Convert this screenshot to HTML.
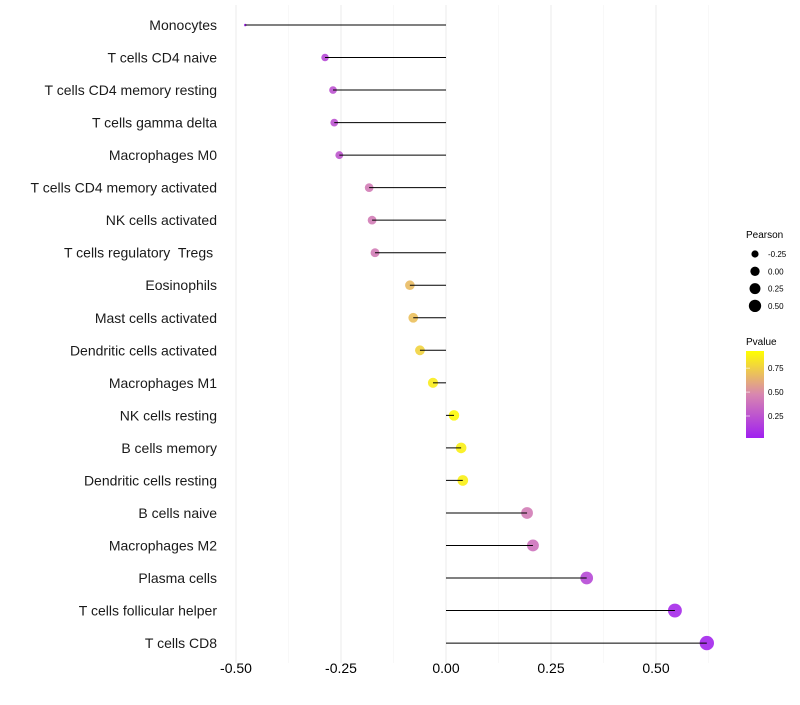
<!DOCTYPE html>
<html><head><meta charset="utf-8"><style>
body{margin:0;background:#fff;}
svg text{font-family:"Liberation Sans",sans-serif;white-space:pre;}
</style></head><body>
<svg id="chart" width="800" height="700" xmlns="http://www.w3.org/2000/svg">
<defs>
<linearGradient id="pgrad" x1="0" y1="1" x2="0" y2="0">
<stop offset="0" stop-color="#a020f0"/><stop offset="0.5" stop-color="#d886b0"/><stop offset="1" stop-color="#ffff00"/>
</linearGradient>
</defs>
<g id="grid"></g>
<g id="marks"></g>
<g id="ylabels"></g>
<g id="xlabels"></g>
<g>
<text x="746" y="238" font-size="10" fill="#000">Pearson</text>
<g id="sizeleg"></g>
</g>
<g>
<text x="746" y="345" font-size="10" fill="#000">Pvalue</text>
<rect x="746" y="351" width="18" height="87" fill="url(#pgrad)"/>
<g id="colleg"></g>
</g>
</svg>
<script>
const categories=["Monocytes","T cells CD4 naive","T cells CD4 memory resting","T cells gamma delta","Macrophages M0","T cells CD4 memory activated","NK cells activated","T cells regulatory  Tregs ","Eosinophils","Mast cells activated","Dendritic cells activated","Macrophages M1","NK cells resting","B cells memory","Dendritic cells resting","B cells naive","Macrophages M2","Plasma cells","T cells follicular helper","T cells CD8"];
const pearson=[-0.478,-0.288,-0.269,-0.266,-0.254,-0.183,-0.176,-0.169,-0.086,-0.078,-0.062,-0.031,0.019,0.036,0.040,0.193,0.207,0.335,0.545,0.621];
const pvalue=[0.03,0.2,0.25,0.25,0.27,0.45,0.45,0.45,0.72,0.74,0.82,0.92,0.98,0.94,0.94,0.45,0.4,0.2,0.05,0.03];
const xTicks=[-0.5,-0.25,0,0.25,0.5];
const xTickLabels=["-0.50","-0.25","0.00","0.25","0.50"];
const sizeLegVals=[-0.25,0,0.25,0.5];
const sizeLegLabels=["-0.25","0.00","0.25","0.50"];
const colLegVals=[0.25,0.5,0.75];
const colLegLabels=["0.25","0.50","0.75"];

const NS="http://www.w3.org/2000/svg";
const x=v=>446+v*420;
const y=i=>25+i*32.53;
const r=v=>1.3+5.6*Math.sqrt(Math.max(0,v+0.478));
function lerp(a,b,t){return Math.round(a+(b-a)*t);}
function col(p){
  const s=[[160,32,240],[216,134,176],[255,255,0]];
  let t=Math.min(1,Math.max(0,p))*2,k=t<1?0:1;t-=k;
  const a=s[k],b=s[k+1];
  return `rgb(${lerp(a[0],b[0],t)},${lerp(a[1],b[1],t)},${lerp(a[2],b[2],t)})`;
}
function mk(tag,attrs,parent){const e=document.createElementNS(NS,tag);for(const k in attrs)e.setAttribute(k,attrs[k]);document.getElementById(parent).appendChild(e);return e;}
for(let v=-0.5;v<=0.63;v+=0.125){
  const major=Math.abs((v*4)-Math.round(v*4))<1e-6;
  const g=mk('line',{x1:x(v),x2:x(v),y1:5,y2:663,stroke:major?'#ebebeb':'#f3f3f3','stroke-width':major?1:0.6},'grid');
  
  
}
xTicks.forEach((t,i)=>{
  const e=mk('text',{x:x(t),y:673,'font-size':14,'text-anchor':'middle',fill:'#000'},'xlabels');
  e.textContent=xTickLabels[i];
  
  
});
categories.forEach((c,i)=>{
  const t=mk('text',{x:217,y:y(i)+5,'font-size':14,'text-anchor':'end',fill:'#1a1a1a'},'ylabels');
  t.textContent=c;
  
  
  const pt=mk('circle',{cx:x(pearson[i]),cy:y(i),r:r(pearson[i]),fill:col(pvalue[i]),'fill-opacity':0.9},'marks');
  
  
  const ln=mk('line',{x1:x(0),x2:x(pearson[i]),y1:y(i),y2:y(i),stroke:'#000','stroke-width':1},'marks');
  
  
});
sizeLegVals.forEach((v,i)=>{
  const cy=254+i*17.3;
  const c=mk('circle',{cx:755,cy:cy,r:r(v)*0.9,fill:'#000'},'sizeleg');
  
  
  const t=mk('text',{x:768,y:cy+3,'font-size':8,fill:'#000'},'sizeleg');
  t.textContent=sizeLegLabels[i];
  
  
});
colLegVals.forEach((v,i)=>{
  const cy=438-(v-0.02)/(0.93-0.02)*87;
  const t=mk('text',{x:768,y:cy+3,'font-size':8,fill:'#000'},'colleg');
  t.textContent=colLegLabels[i];
  
  
  const tk=mk('line',{x1:746,x2:750,y1:cy,y2:cy,stroke:'#fff','stroke-opacity':0.6},'colleg');
  
  
});
</script>
</body></html>
